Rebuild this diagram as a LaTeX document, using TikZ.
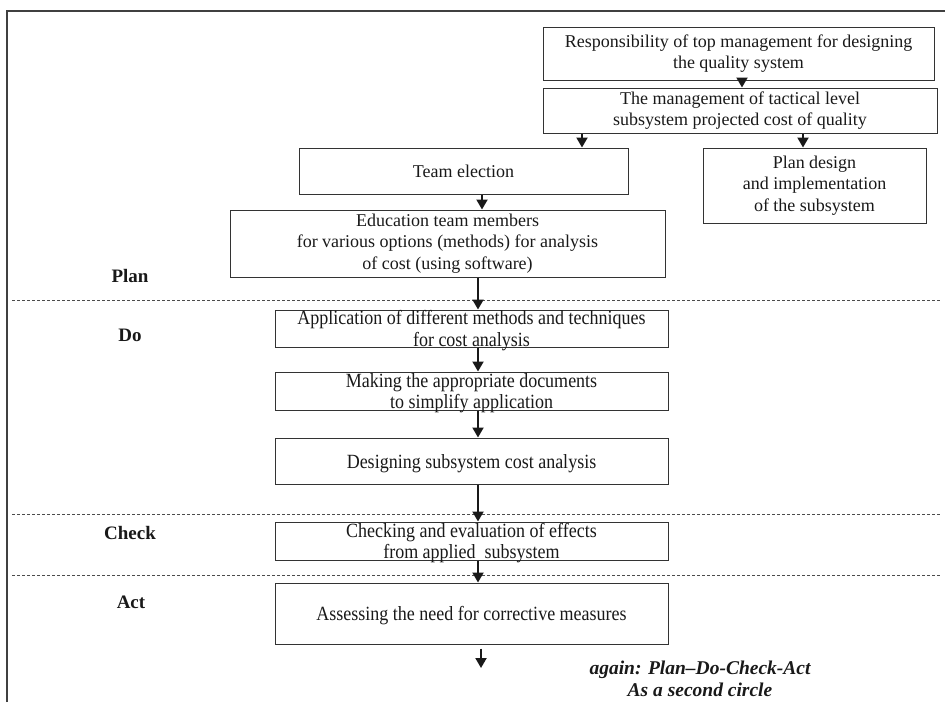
\documentclass[tikz,border=0pt]{standalone}
\usepackage{fontspec}
\setmainfont{Liberation Serif}
\usetikzlibrary{arrows.meta}
\newcommand{\talltext}[1]{\smash{\raisebox{-7.5pt}{\scalebox{1}[1.12]{\fontsize{18}{19.5}\selectfont\begin{tabular}{@{}c@{}}#1\end{tabular}}}}}
\begin{document}
\begin{tikzpicture}[x=1pt,y=-1pt,
  box/.style={draw=black!80,line width=1pt,align=center,inner sep=0pt,
    font=\fontsize{18}{21.5}\selectfont,text=black!90},
  arr/.style={line width=2pt,draw=black!90,-{Triangle[width=11pt,length=10pt]}},
  sep/.style={draw=black!70,line width=0.8pt,dash pattern=on 3pt off 2pt},
  phase/.style={font=\fontsize{19}{22}\selectfont\bfseries,text=black!90},
  frameline/.style={draw=black!75,line width=1.5pt}]
\useasboundingbox (0,0) rectangle (945,702);
% frame
\coordinate (fTL) at (7,11);
\coordinate (fTR) at (945,11);
\coordinate (fBL) at (7,702);
\draw[frameline] (fBL) -- (fTL) -- (fTR);
% boxes
\node[box,minimum width=391pt,minimum height=53pt] (b1) at (738.5,53.5)
  {Responsibility of top management for designing\\the quality system};
\node[box,minimum width=394pt,minimum height=45pt] (b2) at (740,110.5)
  {The management of tactical level\\subsystem projected cost of quality};
\node[box,minimum width=329pt,minimum height=46pt] (team) at (463.5,171)
  {Team election};
\node[box,minimum width=223pt,minimum height=75pt] (plan) at (814.5,185.5)
  {Plan design\\and implementation\\of the subsystem};
\node[box,minimum width=435pt,minimum height=67pt] (edu) at (447.5,243.5)
  {Education team members\\for various options (methods) for analysis\\of cost (using software)};
\node[box,minimum width=393pt,minimum height=37pt] (app) at (471.5,328.5)
  {\talltext{Application of different methods and techniques\\for cost analysis}};
\node[box,minimum width=393pt,minimum height=38pt] (make) at (471.5,391)
  {\talltext{Making the appropriate documents\\to simplify application}};
\node[box,minimum width=393pt,minimum height=46pt] (design) at (471.5,461)
  {\talltext{Designing subsystem cost analysis}};
\node[box,minimum width=393pt,minimum height=38pt] (check) at (471.5,541)
  {\talltext{Checking and evaluation of effects\\from applied\ \ subsystem}};
\node[box,minimum width=393pt,minimum height=61pt] (assess) at (471.5,613.5)
  {\talltext{Assessing the need for corrective measures}};
% phase labels
\node[phase] (lplan) at (130,276) {Plan};
\node[phase] (ldo) at (130,335) {Do};
\node[phase] (lcheck) at (130,533) {Check};
\node[phase] (lact) at (131,602) {Act};
% dashed separators
\coordinate (s1l) at (12,300); \coordinate (s1r) at (940,300);
\coordinate (s2l) at (12,514); \coordinate (s2r) at (940,514);
\coordinate (s3l) at (12,575); \coordinate (s3r) at (940,575);
\draw[sep] (s1l) -- (s1r);
\draw[sep] (s2l) -- (s2r);
\draw[sep] (s3l) -- (s3r);
% arrow x positions
\coordinate (xa) at (742,0);
\coordinate (xb) at (582,0);
\coordinate (xc) at (803,0);
\coordinate (xd) at (482,0);
\coordinate (xe) at (478,0);
\coordinate (endarr) at (481,668);
\draw[arr] (b1.south -| xa) -- (b2.north -| xa);
\draw[arr] (b2.south -| xb) -- (team.north -| xb);
\draw[arr] (b2.south -| xc) -- (plan.north -| xc);
\draw[arr] (team.south -| xd) -- (edu.north -| xd);
\draw[arr] (edu.south -| xe) -- (app.north -| xe);
\draw[arr] (app.south -| xe) -- (make.north -| xe);
\draw[arr] (make.south -| xe) -- (design.north -| xe);
\draw[arr] (design.south -| xe) -- (check.north -| xe);
\draw[arr] (check.south -| xe) -- (assess.north -| xe);
\draw[arr] ([yshift=-4pt]assess.south -| endarr) -- (endarr);
% closing note
\node[font=\fontsize{19.5}{22.5}\selectfont\bfseries\itshape,align=center,text=black!90]
  (note) at (700,679) {again: Plan--Do-Check-Act\\As a second circle};
\end{tikzpicture}
\end{document}
